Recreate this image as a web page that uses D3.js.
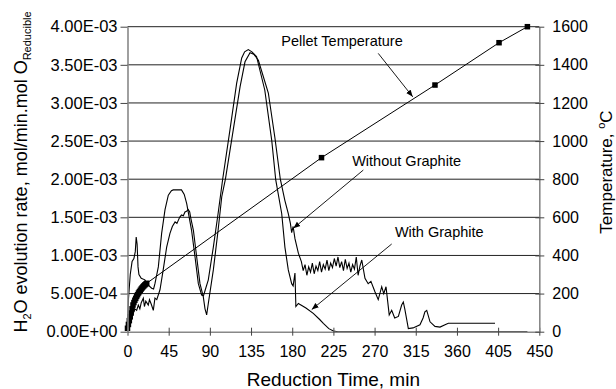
<!DOCTYPE html>
<html>
<head>
<meta charset="utf-8">
<script src="https://cdn.jsdelivr.net/npm/d3@7"></script>
<style>
  body { margin: 0; background: #ffffff; }
  svg { display: block; font-family: "Liberation Sans", Arial, sans-serif; }
</style>
</head>
<body>
<div class="chart"></div>
<script>
// ********************** DATA **********************

// H2O evolution rate, "With Graphite" (smooth curve) -> [time min, rate mol/min.mol]
const withGraphite = [
  [0, 0.05e-3], [1, 0.42e-3], [3, 0.75e-3], [5, 0.92e-3], [7, 0.96e-3], [8.5, 1.05e-3],
  [9.5, 1.24e-3], [10.5, 1.15e-3], [11.5, 0.85e-3], [12.5, 0.75e-3], [15, 0.70e-3],
  [19, 0.68e-3], [22.7, 0.61e-3], [26.4, 0.57e-3], [28.5, 0.56e-3], [30, 0.63e-3],
  [33.7, 0.85e-3], [37.3, 1.29e-3], [41, 1.60e-3], [44.6, 1.79e-3], [48, 1.85e-3],
  [50, 1.86e-3], [59, 1.86e-3], [62, 1.80e-3], [64.7, 1.68e-3], [70, 1.33e-3],
  [73.8, 0.98e-3], [77.4, 0.63e-3], [81, 0.48e-3], [83, 0.47e-3], [85, 0.55e-3],
  [88.3, 0.68e-3], [93.8, 1.11e-3], [99, 1.55e-3], [104, 2.00e-3], [112, 2.65e-3],
  [119.3, 3.26e-3], [124.8, 3.59e-3], [128, 3.67e-3], [132, 3.70e-3], [136, 3.67e-3],
  [141, 3.61e-3], [150, 3.17e-3], [157.6, 2.51e-3], [162, 1.99e-3], [168.5, 1.55e-3],
  [172, 1.11e-3], [175.7, 0.81e-3], [179.4, 0.63e-3], [181, 0.60e-3], [183, 0.77e-3],
  [184, 0.33e-3], [186.7, 0.37e-3], [195, 0.31e-3], [203, 0.24e-3], [210, 0.16e-3],
  [214, 0.11e-3], [220, 0.04e-3], [225, 0.01e-3], [230, 0], [437, 0]
]

// H2O evolution rate, "Without Graphite" (noisy curve)
const withoutGraphite = [
  [0, 0.02e-3], [2, 0.12e-3], [4, 0.20e-3], [6.3, 0.24e-3], [8, 0.30e-3], [10, 0.28e-3],
  [11.8, 0.35e-3], [13.5, 0.30e-3], [15, 0.38e-3], [17.3, 0.44e-3], [18.5, 0.33e-3],
  [20, 0.40e-3], [22.7, 0.35e-3], [24, 0.42e-3], [26, 0.36e-3], [28.2, 0.28e-3],
  [30, 0.44e-3], [32, 0.42e-3], [35.5, 0.55e-3], [39, 0.81e-3], [42.8, 1.11e-3],
  [46.4, 1.29e-3], [49, 1.38e-3], [52, 1.44e-3], [54, 1.42e-3], [55.5, 1.46e-3],
  [57, 1.50e-3], [59, 1.53e-3], [61, 1.52e-3], [62.8, 1.57e-3], [64.5, 1.58e-3],
  [66.4, 1.60e-3], [68, 1.57e-3], [69, 1.50e-3], [72, 1.33e-3], [75.6, 0.98e-3],
  [79.2, 0.63e-3], [82.8, 0.46e-3], [84.7, 0.30e-3], [86.5, 0.22e-3], [88.3, 0.37e-3],
  [93.8, 0.81e-3], [99, 1.33e-3], [103, 1.77e-3], [107, 2.00e-3], [115.6, 2.65e-3],
  [123, 3.21e-3], [128.4, 3.54e-3], [133.9, 3.66e-3], [138, 3.64e-3], [143, 3.56e-3],
  [153.9, 3.13e-3], [161, 2.55e-3], [167, 2.00e-3], [172, 1.72e-3], [175.7, 1.55e-3],
  [178, 1.42e-3], [179.4, 1.30e-3], [181, 1.38e-3], [183, 1.22e-3], [186.7, 1.03e-3],
  [190, 0.92e-3], [192, 0.80e-3], [194, 0.88e-3], [196, 0.74e-3], [198, 0.85e-3],
  [200, 0.78e-3], [202, 0.90e-3], [204, 0.76e-3], [206, 0.86e-3], [208, 0.80e-3],
  [210, 0.92e-3], [212, 0.78e-3], [214, 0.88e-3], [216, 0.82e-3], [218, 0.94e-3],
  [220, 0.80e-3], [222, 0.90e-3], [224, 0.84e-3], [226, 0.96e-3], [228, 0.86e-3],
  [230, 0.98e-3], [232, 0.84e-3], [234, 0.92e-3], [236, 0.80e-3], [238, 0.95e-3],
  [240, 0.83e-3], [242, 0.90e-3], [244, 0.78e-3], [246, 0.88e-3], [248, 0.82e-3],
  [250, 0.98e-3], [252, 0.74e-3], [254, 0.86e-3], [256, 0.94e-3], [259.5, 0.70e-3],
  [263, 0.63e-3], [266, 0.66e-3], [270.5, 0.52e-3], [274, 0.42e-3], [277.8, 0.59e-3],
  [280, 0.50e-3], [282.5, 0.59e-3], [286, 0.22e-3], [288.7, 0.28e-3], [292, 0.18e-3],
  [296, 0.20e-3], [299.6, 0.35e-3], [301.4, 0.39e-3], [303, 0.30e-3], [306.9, 0.04e-3],
  [312, 0.05e-3], [319.6, 0.09e-3], [323, 0.18e-3], [325, 0.26e-3], [327, 0.28e-3],
  [330.6, 0.13e-3], [336, 0.07e-3], [341.5, 0.06e-3], [347, 0.09e-3], [350.6, 0.11e-3],
  [401.6, 0.11e-3]
]

// pellet temperature, right axis -> [time min, temp C]
const pelletTemp = [
  [0, 18], [1, 38], [2, 58], [3, 78], [4, 98], [5, 120], [6, 140], [7, 153], [8, 165],
  [9, 175], [10, 185], [11, 194], [12, 203], [13, 210], [14, 217], [15, 224], [16, 230],
  [17, 236], [18, 241], [19, 246], [20, 250], [21, 254],
  [212, 913], [336, 1294], [406, 1516], [437, 1600]
]

// tick values
const timeTicks = [0, 45, 90, 135, 180, 225, 270, 315, 360, 405, 450]
const rateTicks = [0, 0.5e-3, 1e-3, 1.5e-3, 2e-3, 2.5e-3, 3e-3, 3.5e-3, 4e-3]
const tempTicks = [0, 200, 400, 600, 800, 1000, 1200, 1400, 1600]

// annotations: label, label position, arrow start, arrow end (time, rate)
const labels = ["Pellet Temperature", "Without Graphite", "With Graphite"]
const labelAt = [[234.4, 3.75e-3], [305, 2.17e-3], [340.7, 1.24e-3]]
const arrowFrom = [[274, 3.65e-3], [257.7, 2.12e-3], [288.7, 1.15e-3]]
const arrowTo = [[311.7, 3.08e-3], [181.2, 1.356e-3], [201.3, 0.29e-3]]

// ********************** LAYOUT **********************

const width = 616
const height = 389
const margin = { top: 26.7, right: 76.7, bottom: 57.3, left: 127.5 }

// "4.00E-03" style labels
const sci = (v) => {
  const parts = v.toExponential(2).split("e")
  const n = +parts[1]
  return parts[0] + "E" + (n < 0 ? "-" : "+") + String(Math.abs(n)).padStart(2, "0")
}

const svg = d3.select(".chart")
  .append("svg")
  .attr("width", width)
  .attr("height", height)

const xScale = d3.scaleLinear()
  .domain([0, 450])
  .range([margin.left, width - margin.right])

const yScale = d3.scaleLinear()
  .domain([0, 4e-3])
  .range([height - margin.bottom, margin.top])

const tScale = d3.scaleLinear()
  .domain([0, 1600])
  .range([height - margin.bottom, margin.top])

const x0 = margin.left
const x1 = width - margin.right
const y0 = height - margin.bottom

// gridlines
svg.append("g")
  .selectAll("line")
  .data(rateTicks.slice(1))
  .enter()
  .append("line")
  .attr("x1", x0)
  .attr("x2", x1)
  .attr("y1", (d) => yScale(d))
  .attr("y2", (d) => yScale(d))
  .attr("stroke", "#222")
  .attr("stroke-width", 1)

// curves
const line = d3.line()
  .x((d) => xScale(d[0]))
  .y((d) => yScale(d[1]))

const tempLine = d3.line()
  .x((d) => xScale(d[0]))
  .y((d) => tScale(d[1]))

svg.append("path")
  .datum(withGraphite)
  .attr("d", line)
  .attr("fill", "none")
  .attr("stroke", "#000")
  .attr("stroke-width", 1.1)

svg.append("path")
  .datum(withoutGraphite)
  .attr("d", line)
  .attr("fill", "none")
  .attr("stroke", "#000")
  .attr("stroke-width", 1.1)

svg.append("path")
  .datum(pelletTemp)
  .attr("d", tempLine)
  .attr("fill", "none")
  .attr("stroke", "#000")
  .attr("stroke-width", 1)

svg.selectAll(".marker")
  .data(pelletTemp)
  .enter()
  .append("rect")
  .attr("class", "marker")
  .attr("x", (d) => xScale(d[0]) - 2.75)
  .attr("y", (d) => tScale(d[1]) - 2.75)
  .attr("width", 5.5)
  .attr("height", 5.5)
  .attr("fill", "#000")

// axes
const xAxis = d3.axisBottom(xScale).tickValues(timeTicks).tickSizeInner(4).tickSizeOuter(0).tickPadding(10)
const yAxis = d3.axisLeft(yScale).tickValues(rateTicks).tickFormat(sci).tickSizeInner(7).tickSizeOuter(0).tickPadding(3)
const tAxis = d3.axisRight(tScale).tickValues(tempTicks).tickFormat(d3.format("d")).tickSizeInner(5).tickSizeOuter(0).tickPadding(8)

const styleAxis = (g, size) => {
  g.select(".domain").attr("stroke", "#888").attr("stroke-width", 1.6)
  g.selectAll(".tick line").attr("stroke", "#444")
  g.selectAll(".tick text")
    .attr("fill", "#000")
    .style("font-family", "'Liberation Sans', Arial, sans-serif")
    .style("font-size", size + "px")
}

svg.append("g")
  .attr("transform", "translate(0," + y0 + ")")
  .call(xAxis)
  .call((g) => styleAxis(g, 16))
  .call((g) => g.selectAll(".tick line").attr("y1", -4))

svg.append("g")
  .attr("transform", "translate(" + x0 + ",0)")
  .call(yAxis)
  .call((g) => styleAxis(g, 16.5))

svg.append("g")
  .attr("transform", "translate(" + x1 + ",0)")
  .call(tAxis)
  .call((g) => styleAxis(g, 16))
  .call((g) => g.selectAll(".tick line").attr("x1", -4))

// arrowhead
svg.append("defs")
  .append("marker")
  .attr("id", "head")
  .attr("viewBox", "0 0 10 10")
  .attr("refX", 10)
  .attr("refY", 5)
  .attr("markerWidth", 7)
  .attr("markerHeight", 7)
  .attr("markerUnits", "userSpaceOnUse")
  .attr("orient", "auto")
  .append("path")
  .attr("d", "M0,1 L10,5 L0,9 Z")
  .attr("fill", "#000")

// annotations
labels.forEach((txt, i) => {
  svg.append("text")
    .attr("x", xScale(labelAt[i][0]))
    .attr("y", yScale(labelAt[i][1]))
    .attr("text-anchor", "middle")
    .style("font-size", "14.5px")
    .text(txt)

  svg.append("line")
    .attr("x1", xScale(arrowFrom[i][0]))
    .attr("y1", yScale(arrowFrom[i][1]))
    .attr("x2", xScale(arrowTo[i][0]))
    .attr("y2", yScale(arrowTo[i][1]))
    .attr("stroke", "#000")
    .attr("stroke-width", 0.9)
    .attr("marker-end", "url(#head)")
})

// x title
svg.append("text")
  .attr("x", (x0 + x1) / 2)
  .attr("y", 386)
  .attr("text-anchor", "middle")
  .style("font-size", "19px")
  .text("Reduction Time, min")

// left title with subscripts
const leftTitle = svg.append("text")
  .attr("transform", "translate(27," + 172 + ") rotate(-90)")
  .attr("text-anchor", "middle")
  .style("font-size", "18px")
leftTitle.append("tspan").text("H")
leftTitle.append("tspan").attr("dy", 4).style("font-size", "11px").text("2")
leftTitle.append("tspan").attr("dy", -4).text("O evolution rate, mol/min.mol O")
leftTitle.append("tspan").attr("dy", 4).style("font-size", "11px").text("Reducible")

// right title with superscript
const rightTitle = svg.append("text")
  .attr("transform", "translate(612," + 172 + ") rotate(-90)")
  .attr("text-anchor", "middle")
  .style("font-size", "17px")
rightTitle.append("tspan").text("Temperature, ")
rightTitle.append("tspan").attr("dy", -7).style("font-size", "11px").text("o")
rightTitle.append("tspan").attr("dy", 7).text("C")
</script>
</body>
</html>
